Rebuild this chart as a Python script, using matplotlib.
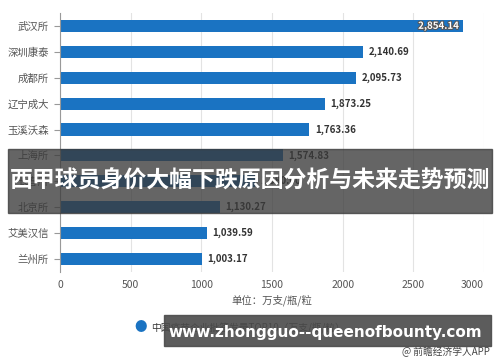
import matplotlib.pyplot as plt
import matplotlib.patheffects as pe
from matplotlib.patches import Rectangle

plt.rcParams['font.family'] = ['Noto Sans CJK SC', 'DejaVu Sans']

companies = ['武汉所', '深圳康泰', '成都所', '辽宁成大', '玉溪沃森',
             '上海所', '长春所', '北京所', '艾美汉信', '兰州所']
values = [2854.14, 2140.69, 2095.73, 1873.25, 1763.36,
          1574.83, 1380.00, 1130.27, 1039.59, 1003.17]
xticks = [0, 500, 1000, 1500, 2000, 2500, 3000]

blue = '#1a73c2'
grey = '#555555'

fig = plt.figure(figsize=(5, 3.62), dpi=100)
ax = fig.add_axes([0.12, 0.249, 0.848, 0.715])

ypos = list(range(len(companies)))
ax.barh(ypos, values, height=0.47, color=blue, zorder=2)
ax.set_ylim(len(companies) - 0.5, -0.5)
ax.set_xlim(0, 3000)
ax.set_yticks(ypos)
ax.set_yticklabels(companies, fontsize=7.5, color=grey)
ax.set_xticks(xticks)
ax.set_xticklabels([str(t) for t in xticks], fontsize=7.5, color=grey)
ax.get_xticklabels()[-1].set_horizontalalignment('right')
ax.tick_params(axis='y', length=4, color='#999999', pad=4)
ax.tick_params(axis='x', length=0, pad=6)
ax.grid(axis='x', color='#e3e3e3', linewidth=0.8, zorder=0)
for s in ['top', 'right', 'bottom']:
    ax.spines[s].set_visible(False)
ax.spines['left'].set_color('#999999')
ax.spines['left'].set_linewidth(0.8)

for i, v in enumerate(values):
    txt = f'{v:,.2f}'
    if i == 0:
        ax.text(v - 30, i, txt, ha='right', va='center', fontsize=7,
                fontweight='bold', color='white',
                path_effects=[pe.withStroke(linewidth=1.5, foreground='#555555')])
    else:
        ax.text(v + 40, i, txt, ha='left', va='center', fontsize=7,
                fontweight='bold', color='#333333')

ax.set_xlabel('单位：万支/瓶/粒', fontsize=7.5, color=grey, labelpad=3)

# legend
fig.text(0.282, 1 - 328 / 362, '●', fontsize=9, color=blue, ha='center', va='center')
fig.text(0.302, 1 - 328 / 362, '中国疫苗企业批签发量TOP10（万支/瓶/粒）', fontsize=7,
         color='#333333', ha='left', va='center')
fig.text(0.98, 1 - 352 / 362, '@ 前瞻经济学人APP', fontsize=7, color='#444444',
         ha='right', va='center')

# overlay banners
fig.patches.append(Rectangle((8 / 500, 1 - 213 / 362), 484 / 500, 64 / 362,
                             transform=fig.transFigure, color='#3a3a3a', alpha=0.78,
                             zorder=10))
fig.text(0.5, 1 - 181 / 362, '西甲球员身价大幅下跌原因分析与未来走势预测', fontsize=16.5,
         fontweight='bold', color='white', ha='center', va='center', zorder=11)
fig.patches.append(Rectangle((164 / 500, 1 - 346 / 362), 327 / 500, 31 / 362,
                             transform=fig.transFigure, color='#4a4a4a', alpha=0.9,
                             zorder=10))
fig.text(325.5 / 500, 1 - 332 / 362, 'www.zhongguo--queenofbounty.com', fontsize=11,
         fontweight='bold', color='white', ha='center', va='center', zorder=11,
         family='DejaVu Sans')

fig.savefig('out.png', dpi=100)
